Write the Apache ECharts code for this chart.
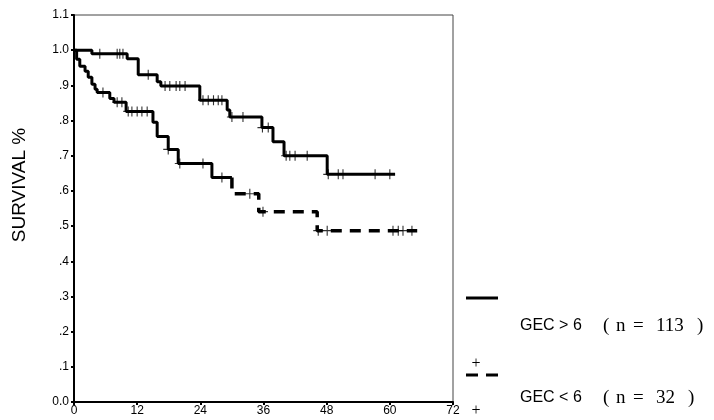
<!DOCTYPE html>
<html><head><meta charset="utf-8">
<script src="https://cdn.jsdelivr.net/npm/echarts@6/dist/echarts.min.js"></script>
<style>html,body{margin:0;padding:0;background:#fff}#c{width:714px;height:420px}</style>
</head><body><div id="c"></div>
<script>
// ---- data ----
const xTickValues = [0, 12, 24, 36, 48, 60, 72];
const yTickLabels = ['0.0', '.1', '.2', '.3', '.4', '.5', '.6', '.7', '.8', '.9', '1.0', '1.1'];

// GEC > 6 (n = 113): event times (months) and survival after each event
const highTimes = [0, 3.4, 10.1, 12.2, 15.8, 16.5, 23.9, 29.1, 29.6, 35.7, 37.8, 39.9, 48.1];
const highSurv  = [1.0, 0.99, 0.976, 0.93, 0.91, 0.898, 0.858, 0.83, 0.81, 0.78, 0.74, 0.70, 0.647];
const highEnd = 61.0;
const highCensorTimes = [4.9, 8.2, 8.7, 9.3, 14.1, 17.3, 18.2, 19.4, 20.1, 21.1, 24.5, 25.5, 26.5, 27.4, 28.1, 30.0, 32.1, 35.8, 36.9, 40.3, 41.0, 42.0, 44.3, 48.3, 50.2, 51.1, 57.2, 60.0];
const highCensorSurv  = [0.99, 0.99, 0.99, 0.99, 0.93, 0.898, 0.898, 0.898, 0.898, 0.898, 0.858, 0.858, 0.858, 0.858, 0.858, 0.81, 0.81, 0.78, 0.78, 0.70, 0.70, 0.70, 0.70, 0.647, 0.647, 0.647, 0.647, 0.647];

// GEC < 6 (n = 32)
const lowTimes = [0, 0.5, 1.1, 2.1, 2.7, 3.4, 4.0, 4.4, 6.8, 7.6, 9.9, 15.0, 15.8, 17.9, 19.8, 26.2, 30.0, 35.1, 46.2];
const lowSurv  = [1.0, 0.974, 0.954, 0.94, 0.923, 0.903, 0.889, 0.88, 0.863, 0.852, 0.826, 0.795, 0.755, 0.718, 0.678, 0.638, 0.592, 0.541, 0.487];
const lowEnd = 65.2;
const lowDashFrom = 30.0;
const lowCensorTimes = [5.5, 8.2, 9.1, 10.3, 11.0, 12.0, 12.9, 13.9, 17.9, 20.1, 24.5, 28.1, 33.4, 35.9, 46.4, 48.1, 60.6, 61.6, 62.5, 64.2];
const lowCensorSurv  = [0.88, 0.852, 0.852, 0.826, 0.826, 0.826, 0.826, 0.826, 0.718, 0.678, 0.678, 0.638, 0.592, 0.541, 0.487, 0.487, 0.487, 0.487, 0.487, 0.487];

// ---- build staircase points ----
function stair(times, surv, end) {
  const pts = [[times[0], surv[0]]];
  for (let i = 1; i < times.length; i++) {
    pts.push([times[i], surv[i - 1]], [times[i], surv[i]]);
  }
  pts.push([end, surv[surv.length - 1]]);
  return pts;
}
const highPts = stair(highTimes, highSurv, highEnd);
const k = lowTimes.indexOf(lowDashFrom);
const lowSolid = stair(lowTimes.slice(0, k), lowSurv.slice(0, k), lowTimes[k]);
const lowDashed = [[lowTimes[k], lowSurv[k - 1]]].concat(stair(lowTimes.slice(k), lowSurv.slice(k), lowEnd));
const zip = (a, b) => a.map((v, i) => [v, b[i]]);

const plusPath = 'path://M8.9,0h2.2v8.9h8.9v2.2h-8.9v8.9h-2.2v-8.9h-8.9v-2.2h8.9z';
const FONT = '"Liberation Sans", Arial, sans-serif';
const SERIF = '"Liberation Serif", "Times New Roman", serif';

function nLabel(y, count) {
  const f = '19px ' + SERIF;
  const parts = [['(', 603], ['n', 616], ['=', 633], [count, 656], [')', count.length > 2 ? 697 : 688]];
  return parts.map(p => ({type: 'text', x: p[1], y: y, style: {text: p[0], font: f, fill: '#000', verticalAlign: 'middle'}}));
}

const chart = echarts.init(document.getElementById('c'), null, {renderer: 'canvas'});
chart.setOption({
  animation: false,
  backgroundColor: '#fff',
  grid: {left: 74, right: 261, top: 15, bottom: 18, show: true, borderColor: '#444', borderWidth: 1, backgroundColor: 'transparent'},
  xAxis: {
    type: 'value', min: 0, max: 72, interval: 12,
    axisLine: {show: true, onZero: false, lineStyle: {color: '#000', width: 2}},
    axisTick: {show: true, length: 3, lineStyle: {color: '#000', width: 2}},
    axisLabel: {color: '#000', fontSize: 12, fontFamily: FONT, margin: 3,
      formatter: v => xTickValues.indexOf(v) >= 0 ? String(v) : ''},
    splitLine: {show: false}
  },
  yAxis: {
    type: 'value', min: 0, max: 1.1, interval: 0.1,
    axisLine: {show: true, onZero: false, lineStyle: {color: '#000', width: 2}},
    axisTick: {show: true, length: 3, lineStyle: {color: '#000', width: 2}},
    axisLabel: {color: '#000', fontSize: 12, fontFamily: FONT, margin: 5,
      formatter: v => yTickLabels[Math.round(v * 10)]},
    splitLine: {show: false}
  },
  series: [
    {type: 'line', data: highPts, showSymbol: false, lineStyle: {color: '#000', width: 3}, z: 3},
    {type: 'line', data: lowSolid, showSymbol: false, lineStyle: {color: '#000', width: 3}, z: 3},
    {type: 'line', data: lowDashed, showSymbol: false, lineStyle: {color: '#000', width: 3.5, type: [11, 8]}, z: 3},
    {type: 'scatter', data: zip(highCensorTimes, highCensorSurv), symbol: plusPath, symbolSize: 10, itemStyle: {color: '#000'}, z: 4},
    {type: 'scatter', data: zip(lowCensorTimes, lowCensorSurv), symbol: plusPath, symbolSize: 10, itemStyle: {color: '#000'}, z: 4}
  ],
  graphic: [
    {type: 'text', x: 20, y: 185, rotation: Math.PI / 2, style: {text: 'SURVIVAL %', font: '19px ' + FONT, fill: '#000', align: 'center', verticalAlign: 'middle'}},
    {type: 'line', shape: {x1: 466, y1: 298, x2: 498, y2: 298}, style: {stroke: '#000', lineWidth: 3}},
    {type: 'text', x: 520, y: 326, style: {text: 'GEC > 6', font: '16px ' + FONT, fill: '#000', verticalAlign: 'middle'}},
    {type: 'text', x: 476, y: 364, style: {text: '+', font: '16px ' + SERIF, fill: '#000', align: 'center', verticalAlign: 'middle'}},
    {type: 'line', shape: {x1: 466, y1: 375, x2: 478, y2: 375}, style: {stroke: '#000', lineWidth: 3}},
    {type: 'line', shape: {x1: 486, y1: 375, x2: 498, y2: 375}, style: {stroke: '#000', lineWidth: 3}},
    {type: 'text', x: 520, y: 398, style: {text: 'GEC < 6', font: '16px ' + FONT, fill: '#000', verticalAlign: 'middle'}},
    {type: 'text', x: 476, y: 411, style: {text: '+', font: '16px ' + SERIF, fill: '#000', align: 'center', verticalAlign: 'middle'}}
  ].concat(nLabel(326, '113'), nLabel(398, '32'))
});
</script></body></html>
